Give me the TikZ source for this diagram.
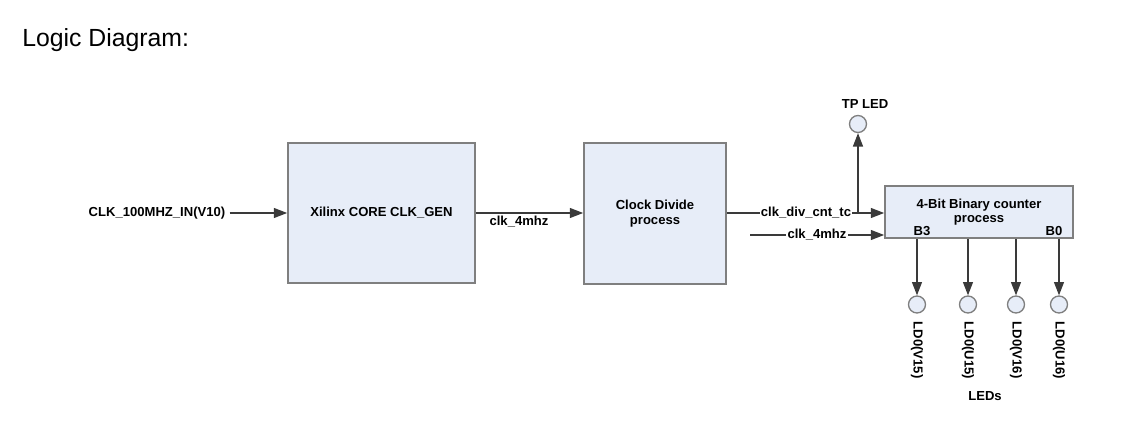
\documentclass[tikz,border=0pt]{standalone}
\usepackage{fontspec}
\setmainfont{Liberation Sans}
\usetikzlibrary{arrows.meta}
\newcommand{\pxUnit}{0.75pt}
\newcommand{\ledRadius}{8.5}
\newcommand{\ledTop}{296}
\newcommand{\labelFont}{\fontsize{9.8}{11}\selectfont\bfseries}
\definecolor{blockFill}{HTML}{E7EDF8}
\definecolor{blockLine}{HTML}{7F7F7F}
\definecolor{wireColor}{HTML}{3A3A3A}

\tikzset{
  block/.style={draw=blockLine, line width=1.3pt, fill=blockFill, align=center,
    font=\labelFont, inner sep=0pt},
  wire/.style={draw=wireColor, line width=0.9pt, -{Triangle[length=10pt,width=7.5pt]}},
  plainwire/.style={draw=wireColor, line width=0.9pt},
  led/.style={circle, draw=blockLine, line width=1pt, fill=blockFill,
    minimum size=2*\ledRadius*\pxUnit, inner sep=0pt},
  sig/.style={font=\labelFont, inner sep=1.5pt},
  inlinesig/.style={font=\labelFont, fill=white, inner sep=1pt},
}

\begin{document}
\begin{tikzpicture}[x=\pxUnit, y=-\pxUnit]
\useasboundingbox (0,0) rectangle (1129,446);

\node (title) [anchor=west, inner sep=0pt, font=\fontsize{18.6}{22}\selectfont] at (22,40) {Logic Diagram:};

% blocks
\node (clkgen) [block, minimum width=187*\pxUnit, minimum height=140*\pxUnit] at (381.5,213) {Xilinx CORE CLK\_GEN};
\node (clkdiv) [block, minimum width=142*\pxUnit, minimum height=141*\pxUnit] at (655,213.5) {Clock Divide\\process};
\node (counter) [block, minimum width=188*\pxUnit, minimum height=52*\pxUnit] at (979,212) {4-Bit Binary counter\\process};
\node (bitHigh) [sig] at (922,231) {B3};
\node (bitLow) [sig] at (1054,231) {B0};

% clock input
\node (clkin) [sig, inner sep=3pt] at (157,213) {CLK\_100MHZ\_IN(V10)};
\draw[wire] (clkin.east) -- (clkgen.west);

\draw[wire] (clkgen.east) -- (clkgen.east -| clkdiv.west);
\node (clkFour) [sig] at (519,222) {clk\_4mhz};

% divider output and test point
\coordinate (tpTap) at (858,213);
\node (tpLed) [led] at (858,124) {};
\node (tpLabel) [sig] at (865,104) {TP LED};
\draw[plainwire] (clkdiv.east |- tpTap) -- (tpTap);
\draw[wire] (tpTap) -- (tpTap -| counter.west);
\draw[wire] (tpTap) -- (tpLed.south);
\node (divTc) [inlinesig] at (806,213) {clk\_div\_cnt\_tc};

\coordinate (clkInTwo) at (750,235);
\draw[wire] (clkInTwo) -- (clkInTwo -| counter.west);
\node (clkFourB) [inlinesig] at (817,235) {clk\_4mhz};

% LED outputs
\foreach \ledX/\ledName/\pinName in {917/ledA/V15, 968/ledB/U15, 1016/ledC/V16, 1059/ledD/U16}{
  \node (\ledName) [led] at (\ledX,\ledTop+\ledRadius) {};
  \draw[wire] (\ledX,239) -- (\ledName.north);
  \node [sig, rotate=-90, anchor=west] at ([yshift=-6*\pxUnit]\ledName.south) {LD0(\pinName)};
}
\node (ledsLabel) [sig] at (985,396) {LEDs};
\end{tikzpicture}
\end{document}
